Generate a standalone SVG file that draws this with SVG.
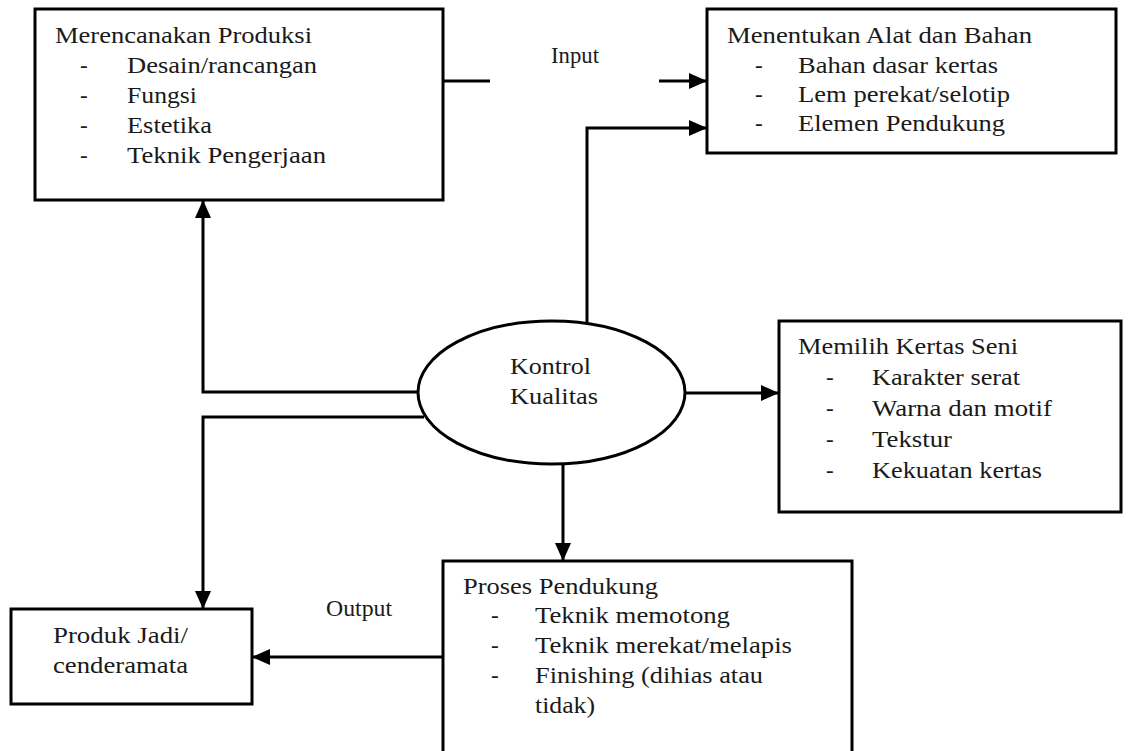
<svg xmlns="http://www.w3.org/2000/svg" width="1133" height="751" viewBox="0 0 1133 751">
<style>
.box{fill:#fff;stroke:#000;stroke-width:3}
.t{font-family:"Liberation Serif","Times New Roman",serif;font-size:23px;fill:#1a1a1a}
.c{fill:none;stroke:#000;stroke-width:3}
</style>
<defs>
<marker id="ah" markerUnits="userSpaceOnUse" markerWidth="18" markerHeight="18" viewBox="0 0 18 18" refX="17" refY="9" orient="auto">
<path d="M0,1 L18,9 L0,17 z" fill="#000"/>
</marker>
</defs>
<rect width="1133" height="751" fill="#fff"/>
<g id="connectors">
<line class="c" x1="443" y1="81" x2="490" y2="81"/>
<line class="c" x1="659" y1="81" x2="706" y2="81" marker-end="url(#ah)"/>
<polyline class="c" points="587,322 587,128 706,128" marker-end="url(#ah)"/>
<polyline class="c" points="419,392 203,392 203,201" marker-end="url(#ah)"/>
<polyline class="c" points="424,417 203,417 203,608" marker-end="url(#ah)"/>
<line class="c" x1="685" y1="393" x2="778" y2="393" marker-end="url(#ah)"/>
<line class="c" x1="563" y1="464" x2="563" y2="560" marker-end="url(#ah)"/>
<line class="c" x1="443" y1="657" x2="253" y2="657" marker-end="url(#ah)"/>
</g>
<g id="label-input"><text class="t" x="551" y="63" textLength="48" lengthAdjust="spacingAndGlyphs">Input</text></g>
<g id="label-output"><text class="t" x="326" y="616" textLength="66" lengthAdjust="spacingAndGlyphs">Output</text></g>
<g id="node-merencanakan">
<rect class="box" x="35" y="9" width="408" height="191"/>
<text class="t" x="55" y="43" textLength="257" lengthAdjust="spacingAndGlyphs">Merencanakan Produksi</text>
<text class="t" x="80" y="73">-</text><text class="t" x="127" y="73" textLength="190" lengthAdjust="spacingAndGlyphs">Desain/rancangan</text>
<text class="t" x="80" y="103">-</text><text class="t" x="127" y="103" textLength="70" lengthAdjust="spacingAndGlyphs">Fungsi</text>
<text class="t" x="80" y="133">-</text><text class="t" x="127" y="133" textLength="85" lengthAdjust="spacingAndGlyphs">Estetika</text>
<text class="t" x="80" y="163">-</text><text class="t" x="127" y="163" textLength="199" lengthAdjust="spacingAndGlyphs">Teknik Pengerjaan</text>
</g>
<g id="node-menentukan">
<rect class="box" x="707" y="9" width="409" height="144"/>
<text class="t" x="727" y="43" textLength="305" lengthAdjust="spacingAndGlyphs">Menentukan Alat dan Bahan</text>
<text class="t" x="755" y="73">-</text><text class="t" x="798" y="73" textLength="200" lengthAdjust="spacingAndGlyphs">Bahan dasar kertas</text>
<text class="t" x="755" y="102">-</text><text class="t" x="798" y="102" textLength="212" lengthAdjust="spacingAndGlyphs">Lem perekat/selotip</text>
<text class="t" x="755" y="131">-</text><text class="t" x="798" y="131" textLength="207" lengthAdjust="spacingAndGlyphs">Elemen Pendukung</text>
</g>
<g id="node-kontrol">
<ellipse class="box" cx="551.5" cy="392.5" rx="133.5" ry="71.5"/>
<text class="t" x="510" y="374" textLength="81" lengthAdjust="spacingAndGlyphs">Kontrol</text>
<text class="t" x="510" y="404" textLength="88" lengthAdjust="spacingAndGlyphs">Kualitas</text>
</g>
<g id="node-memilih">
<rect class="box" x="779" y="321" width="342" height="191"/>
<text class="t" x="798" y="354" textLength="220" lengthAdjust="spacingAndGlyphs">Memilih Kertas Seni</text>
<text class="t" x="826" y="385">-</text><text class="t" x="872" y="385" textLength="148" lengthAdjust="spacingAndGlyphs">Karakter serat</text>
<text class="t" x="826" y="416">-</text><text class="t" x="872" y="416" textLength="180" lengthAdjust="spacingAndGlyphs">Warna dan motif</text>
<text class="t" x="826" y="447">-</text><text class="t" x="872" y="447" textLength="80" lengthAdjust="spacingAndGlyphs">Tekstur</text>
<text class="t" x="826" y="478">-</text><text class="t" x="872" y="478" textLength="170" lengthAdjust="spacingAndGlyphs">Kekuatan kertas</text>
</g>
<g id="node-proses">
<rect class="box" x="443" y="561" width="409" height="220"/>
<text class="t" x="463" y="594" textLength="195" lengthAdjust="spacingAndGlyphs">Proses Pendukung</text>
<text class="t" x="491" y="623">-</text><text class="t" x="535" y="623" textLength="195" lengthAdjust="spacingAndGlyphs">Teknik memotong</text>
<text class="t" x="491" y="653">-</text><text class="t" x="535" y="653" textLength="257" lengthAdjust="spacingAndGlyphs">Teknik merekat/melapis</text>
<text class="t" x="491" y="683">-</text><text class="t" x="535" y="683" textLength="228" lengthAdjust="spacingAndGlyphs">Finishing (dihias atau</text>
<text class="t" x="535" y="713" textLength="60" lengthAdjust="spacingAndGlyphs">tidak)</text>
</g>
<g id="node-produk">
<rect class="box" x="11" y="609" width="241" height="95"/>
<text class="t" x="53" y="643" textLength="135" lengthAdjust="spacingAndGlyphs">Produk Jadi/</text>
<text class="t" x="53" y="673" textLength="135" lengthAdjust="spacingAndGlyphs">cenderamata</text>
</g>
</svg>
